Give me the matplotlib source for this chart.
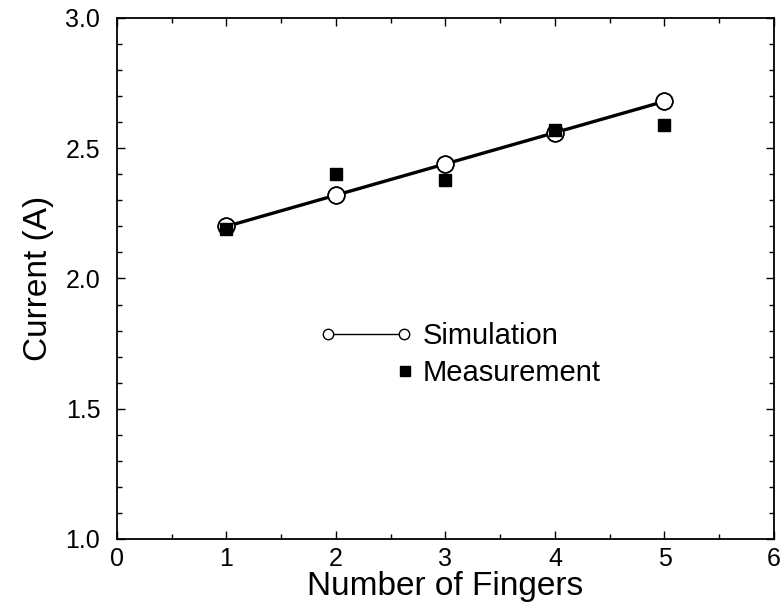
import matplotlib
matplotlib.use("Agg")
import matplotlib.pyplot as plt
from matplotlib.lines import Line2D
from matplotlib.legend_handler import HandlerBase, HandlerLine2D
from matplotlib.ticker import MultipleLocator

fingers = [1, 2, 3, 4, 5]
simulation = [2.20, 2.32, 2.44, 2.56, 2.68]
measurement = [2.19, 2.40, 2.38, 2.57, 2.59]

plt.rcParams['font.family'] = ['Liberation Sans', 'DejaVu Sans']

fig = plt.figure(figsize=(7.83, 6.08), dpi=100)
ax = fig.add_axes([0.1494, 0.1135, 0.8391, 0.8569])

ax.plot(fingers, simulation, color='black', lw=2.4, marker='o', markersize=12,
        markerfacecolor='white', markeredgecolor='black', markeredgewidth=1.1,
        label='Simulation', zorder=2)
ax.plot(fingers, measurement, ls='none', marker='s', markersize=8.5,
        color='black', label='Measurement', zorder=3)
# open circle outlines drawn above the squares
ax.plot(fingers, simulation, ls='none', marker='o', markersize=12,
        markerfacecolor='none', markeredgecolor='black', markeredgewidth=1.1, zorder=4)

ax.set_xlim(0, 6)
ax.set_ylim(1.0, 3.0)
ax.xaxis.set_major_locator(MultipleLocator(1))
ax.xaxis.set_minor_locator(MultipleLocator(0.5))
ax.yaxis.set_major_locator(MultipleLocator(0.5))
ax.yaxis.set_minor_locator(MultipleLocator(0.1))
ax.yaxis.set_major_formatter(plt.FuncFormatter(lambda v, p: f"{v:.1f}"))
ax.tick_params(which='both', direction='in', top=True, right=True, width=1.0,
               labelsize=18)
ax.tick_params(axis='x', which='major', pad=6)
ax.tick_params(axis='y', which='major', pad=12)
ax.tick_params(which='major', length=6)
ax.tick_params(which='minor', length=3.5)
for s in ax.spines.values():
    s.set_linewidth(1.3)

ax.set_xlabel('Number of Fingers', fontsize=24, labelpad=0)
ax.set_ylabel('Current (A)', fontsize=24, labelpad=8)


class EndMarker(HandlerBase):
    def create_artists(self, legend, orig_handle, xdescent, ydescent,
                       width, height, fontsize, trans):
        x = -xdescent + width - 0.25 * fontsize
        y = height / 2.0 - ydescent
        m = Line2D([x], [y], ls='none', marker='s', markersize=7,
                   color='black', transform=trans)
        return [m]


sim_handle = Line2D([], [], color='black', lw=1.0, marker='o', markersize=7.5,
                    markerfacecolor='white', markeredgecolor='black',
                    markeredgewidth=1.0)
meas_handle = Line2D([], [], ls='none', marker='s', color='black')

leg = ax.legend([sim_handle, meas_handle], ['Simulation', 'Measurement'],
                handler_map={sim_handle: HandlerLine2D(numpoints=2),
                             meas_handle: EndMarker()},
                loc='upper left', bbox_to_anchor=(0.277, 0.455),
                frameon=False, fontsize=21, handlelength=3.2,
                handletextpad=0.35, labelspacing=0.3, borderpad=0.2)

fig.savefig('out.png', dpi=100)
